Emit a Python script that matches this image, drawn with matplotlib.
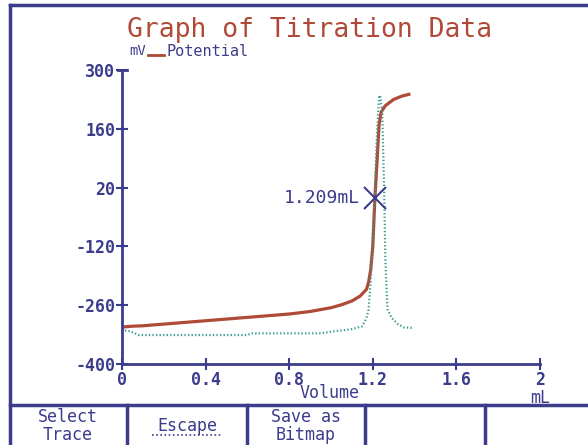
# titration graph, redrawn from an instrument screen capture

import matplotlib
matplotlib.use("Agg")
import matplotlib.pyplot as plt
from matplotlib.lines import Line2D

plt.rcParams["axes.unicode_minus"] = False

# potential trace (mL, mV)
volume = [0.00, 0.05, 0.10, 0.20, 0.30, 0.40, 0.50, 0.60, 0.70, 0.80, 0.90,
          1.00, 1.05, 1.10, 1.14, 1.17, 1.18, 1.19, 1.20, 1.21, 1.22, 1.23,
          1.24, 1.26, 1.30, 1.34, 1.38]
potential = [-312, -310, -309, -305, -301, -297, -293, -289, -285, -281, -275,
             -266, -259, -250, -238, -222, -205, -175, -120, -5, 80, 170,
             200, 215, 230, 238, 243]

# derivative trace (dotted)
dvol = [0.00, 0.02, 0.04, 0.08, 0.20, 0.40, 0.60, 0.62, 0.80, 0.95, 1.00,
        1.10, 1.15, 1.17, 1.18, 1.19, 1.20, 1.21, 1.22, 1.23, 1.235, 1.245,
        1.255, 1.26, 1.27, 1.29, 1.32, 1.35, 1.39]
deriv = [-326, -320, -322, -331, -331, -331, -331, -327, -327, -327, -323,
         -317, -310, -290, -270, -200, -100, 20, 150, 235, 240, 200,
         0, -150, -270, -290, -305, -313, -314]

yticks = [300, 160, 20, -120, -260, -400]
xticks = [0, 0.4, 0.8, 1.2, 1.6, 2]
xticklabels = ["0", "0.4", "0.8", "1.2", "1.6", "2"]
endpoint = 1.209
endpoint_mv = -5
buttons = [("Select\nTrace", 68), ("Escape", 187), ("Save as\nBitmap", 306)]

navy = "#3c3c8c"
brick = "#b04a38"
teal = "#3a9a92"
mono = "DejaVu Sans Mono"

W, H = 588, 445
fig = plt.figure(figsize=(W / 100, H / 100), dpi=100)
fig.patch.set_facecolor("white")

def fx(px):
    return px / W

def fy(py):
    return 1 - py / H

ax = fig.add_axes([fx(122), fy(364), fx(540) - fx(122), fy(70) - fy(364)])
ax.plot(volume, potential, color=brick, lw=2.3, solid_capstyle="butt")
ax.plot(dvol, deriv, color=teal, lw=1.6, linestyle=(0, (0.6, 1.0)))
ax.plot([endpoint], [endpoint_mv], marker="x", ms=16, mew=1.5, color=navy)
ax.text(endpoint - 0.07, endpoint_mv, "1.209mL", color=navy, fontsize=13,
        family=mono, ha="right", va="center")

ax.set_xlim(0, 2)
ax.set_ylim(-400, 300)
ax.set_xticks(xticks)
ax.set_xticklabels(xticklabels)
ax.set_yticks(yticks)
ax.tick_params(direction="inout", length=8, width=1.5, colors=navy,
               labelsize=12, pad=1)
for lab in ax.get_xticklabels() + ax.get_yticklabels():
    lab.set_family(mono)
    lab.set_color(navy)
    lab.set_weight("bold")
for side in ["top", "right"]:
    ax.spines[side].set_visible(False)
for side in ["left", "bottom"]:
    ax.spines[side].set_color(navy)
    ax.spines[side].set_linewidth(2)
ax.set_facecolor("white")

# T cap at top of y axis
fig.add_artist(Line2D([fx(118), fx(127)], [fy(70), fy(70)], color=navy, lw=2))

fig.text(fx(310), fy(30), "Graph of Titration Data", color=brick, fontsize=19,
         family=mono, ha="center", va="center")
fig.text(fx(146), fy(51), "mV", color=navy, fontsize=10, family=mono,
         ha="right", va="center")
fig.add_artist(Line2D([fx(148), fx(164)], [fy(55), fy(55)], color=brick, lw=2))
fig.text(fx(166), fy(51), "Potential", color=navy, fontsize=11, family=mono,
         ha="left", va="center")
fig.text(fx(330), fy(393), "Volume", color=navy, fontsize=12, family=mono,
         ha="center", va="center")
fig.text(fx(540), fy(398), "mL", color=navy, fontsize=12, family=mono,
         ha="center", va="center")

# screen frame and button bar
frame = dict(color=navy, lw=2.5)
fig.add_artist(Line2D([fx(10), fx(10)], [fy(5), 0], **frame))
fig.add_artist(Line2D([fx(10), 1], [fy(5), fy(5)], **frame))
fig.add_artist(Line2D([fx(10), 1], [fy(405), fy(405)], **frame))
for px in [127, 247, 365, 485]:
    fig.add_artist(Line2D([fx(px), fx(px)], [fy(405), 0], **frame))
for label, px in buttons:
    fig.text(fx(px), fy(426), label, color=navy, fontsize=12, family=mono,
             ha="center", va="center", linespacing=0.95)
fig.add_artist(Line2D([fx(152), fx(222)], [fy(435), fy(435)], color=navy,
                      lw=1.2, linestyle=(0, (1, 1.5))))

fig.savefig("out.png", dpi=100)
